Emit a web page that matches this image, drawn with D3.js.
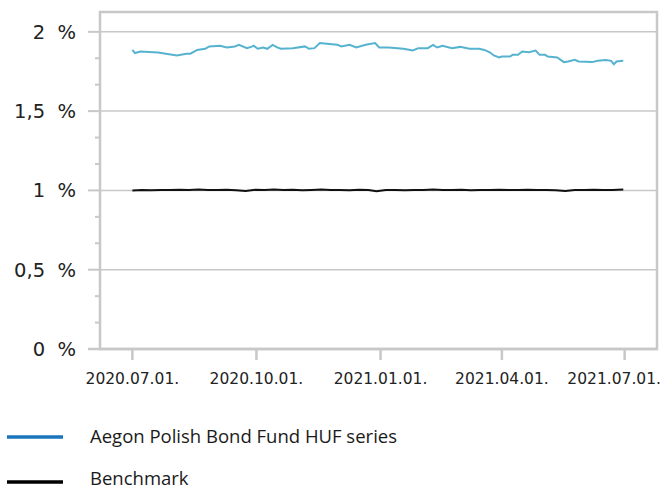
<!DOCTYPE html>
<html lang="en">
<head>
    <meta charset="UTF-8">
    <title>Aegon Polish Bond Fund HUF series</title>
    <script src="https://d3js.org/d3.v7.min.js"></script>
    <style>
        body { margin: 0; background: #fff; }
        .tick-label { font-family: "DejaVu Sans", Verdana, sans-serif; fill: #222; }
        .legend-label { font-family: "Open Sans", sans-serif; font-size: 18.5px; fill: #1a1a1a; }
    </style>
</head>
<body>
    <svg width="662" height="489"></svg>
    <script>
        // fund series
        const fundDates = [
            "2020-07-01", "2020-07-03", "2020-07-07", "2020-07-20", "2020-08-03", "2020-08-10",
            "2020-08-13", "2020-08-18", "2020-08-24", "2020-08-27", "2020-09-04", "2020-09-09",
            "2020-09-15", "2020-09-18", "2020-09-24", "2020-09-28", "2020-09-29", "2020-10-02",
            "2020-10-06", "2020-10-09", "2020-10-13", "2020-10-16", "2020-10-19", "2020-10-28",
            "2020-11-06", "2020-11-09", "2020-11-13", "2020-11-17", "2020-11-24", "2020-11-30",
            "2020-12-03", "2020-12-09", "2020-12-14", "2020-12-21", "2020-12-28", "2020-12-31",
            "2021-01-07", "2021-01-18", "2021-01-25", "2021-01-29", "2021-02-05", "2021-02-09",
            "2021-02-12", "2021-02-16", "2021-02-23", "2021-03-01", "2021-03-08", "2021-03-15",
            "2021-03-19", "2021-03-23", "2021-03-26", "2021-03-30", "2021-04-01", "2021-04-07",
            "2021-04-09", "2021-04-13", "2021-04-16", "2021-04-21", "2021-04-26", "2021-04-29",
            "2021-05-03", "2021-05-05", "2021-05-12", "2021-05-17", "2021-05-20", "2021-05-25",
            "2021-05-28", "2021-06-07", "2021-06-11", "2021-06-17", "2021-06-21", "2021-06-23",
            "2021-06-25", "2021-06-30"
        ];
        const fundValues = [
            1.886, 1.866, 1.876, 1.870, 1.851, 1.862,
            1.862, 1.886, 1.893, 1.908, 1.912, 1.901,
            1.908, 1.918, 1.897, 1.908, 1.912, 1.893,
            1.901, 1.893, 1.918, 1.903, 1.893, 1.897,
            1.908, 1.893, 1.897, 1.929, 1.923, 1.918,
            1.908, 1.918, 1.901, 1.918, 1.929, 1.901,
            1.901, 1.893, 1.882, 1.897, 1.897, 1.918,
            1.901, 1.912, 1.897, 1.905, 1.893, 1.893,
            1.886, 1.871, 1.851, 1.838, 1.844, 1.844,
            1.855, 1.855, 1.876, 1.872, 1.882, 1.855,
            1.855, 1.844, 1.838, 1.809, 1.813, 1.823,
            1.813, 1.809, 1.817, 1.823, 1.817, 1.796,
            1.813, 1.817
        ];

        // benchmark series
        const benchDates = [
            "2020-07-01", "2020-07-08", "2020-07-15", "2020-07-22", "2020-07-29", "2020-08-05",
            "2020-08-12", "2020-08-19", "2020-08-26", "2020-09-02", "2020-09-09", "2020-09-16",
            "2020-09-23", "2020-09-30", "2020-10-07", "2020-10-14", "2020-10-21", "2020-10-28",
            "2020-11-04", "2020-11-11", "2020-11-18", "2020-11-25", "2020-12-02", "2020-12-09",
            "2020-12-16", "2020-12-23", "2020-12-29", "2021-01-05", "2021-01-12", "2021-01-19",
            "2021-01-26", "2021-02-02", "2021-02-09", "2021-02-16", "2021-02-23", "2021-03-02",
            "2021-03-09", "2021-03-16", "2021-03-23", "2021-03-30", "2021-04-06", "2021-04-13",
            "2021-04-20", "2021-04-27", "2021-05-04", "2021-05-11", "2021-05-18", "2021-05-25",
            "2021-06-01", "2021-06-08", "2021-06-15", "2021-06-22", "2021-06-30"
        ];
        const benchValues = [
            1.000, 1.002, 1.001, 1.003, 1.002, 1.004,
            1.003, 1.005, 1.003, 1.002, 1.004, 1.001,
            0.996, 1.004, 1.002, 1.005, 1.002, 1.004,
            1.001, 1.003, 1.006, 1.002, 1.003, 1.001,
            1.004, 1.003, 0.995, 1.002, 1.003, 1.001,
            1.003, 1.002, 1.005, 1.003, 1.002, 1.004,
            1.001, 1.003, 1.002, 1.004, 1.003, 1.002,
            1.004, 1.003, 1.002, 1.001, 0.997, 1.003,
            1.002, 1.004, 1.003, 1.002, 1.006
        ];

        const xTickDates = ["2020-07-01", "2020-10-01", "2021-01-01", "2021-04-01", "2021-07-01"];
        const yMajorTicks = [0, 0.5, 1, 1.5, 2];
        const yTickLabels = ["0  %", "0,5  %", "1  %", "1,5  %", "2  %"];
        const seriesNames = ["Aegon Polish Bond Fund HUF series", "Benchmark"];

        const parse = d3.utcParse("%Y-%m-%d");
        const fmt = d3.utcFormat("%Y.%m.%d.");

        const W = 662;
        const plotL = 100, plotR = 657, plotT = 12, plotB = 349;
        const grid = "#c8c8c8";

        const x = d3.scaleUtc()
            .domain([parse("2020-06-07"), parse("2021-07-25")])
            .range([plotL, plotR]);
        const y = d3.scaleLinear()
            .domain([0, 2.125])
            .range([plotB, plotT]);

        const svg = d3.select("svg");

        // gridlines
        svg.append("g")
            .selectAll("line")
            .data(yMajorTicks.slice(1))
            .join("line")
            .attr("x1", plotL).attr("x2", plotR)
            .attr("y1", d => y(d)).attr("y2", d => y(d))
            .attr("stroke", grid).attr("stroke-width", 1.5);

        // frame
        svg.append("rect")
            .attr("x", plotL).attr("y", plotT)
            .attr("width", plotR - plotL).attr("height", plotB - plotT)
            .attr("fill", "none")
            .attr("stroke", grid).attr("stroke-width", 2.5);

        // x axis line extends left to meet the y ticks
        svg.append("line")
            .attr("x1", 88).attr("x2", plotR)
            .attr("y1", plotB).attr("y2", plotB)
            .attr("stroke", grid).attr("stroke-width", 2.5);

        // y ticks (minor every 1/6)
        const yMinor = d3.range(0, 2.001, 1 / 6);
        svg.append("g")
            .selectAll("line")
            .data(yMinor)
            .join("line")
            .attr("x1", d => yMajorTicks.some(m => Math.abs(m - d) < 1e-6) ? 88 : 95)
            .attr("x2", plotL)
            .attr("y1", d => y(d)).attr("y2", d => y(d))
            .attr("stroke", grid).attr("stroke-width", 2);

        svg.append("g")
            .selectAll("text")
            .data(yMajorTicks)
            .join("text")
            .attr("class", "tick-label")
            .attr("x", 76)
            .attr("y", d => y(d))
            .attr("dy", "0.36em")
            .attr("text-anchor", "end")
            .style("font-size", "19.5px")
            .style("white-space", "pre")
            .text((d, i) => yTickLabels[i]);

        // x ticks
        const xTicks = xTickDates.map(parse);
        svg.append("g")
            .selectAll("line")
            .data(xTicks)
            .join("line")
            .attr("x1", d => x(d)).attr("x2", d => x(d))
            .attr("y1", plotB + 1).attr("y2", 360)
            .attr("stroke", grid).attr("stroke-width", 2.5);

        svg.append("g")
            .selectAll("text")
            .data(xTicks)
            .join("text")
            .attr("class", "tick-label")
            .attr("x", d => x(d))
            .attr("y", 384)
            .attr("text-anchor", "middle")
            .style("font-size", "15.5px")
            .text(d => fmt(d))
            .each(function () {
                // keep the last label inside the picture
                const half = this.getComputedTextLength() / 2;
                const cx = +this.getAttribute("x");
                if (cx + half > W - 1) this.setAttribute("x", W - 1 - half);
            });

        // lines
        const line = d3.line()
            .x(d => x(d[0]))
            .y(d => y(d[1]));

        const fund = fundDates.map((d, i) => [parse(d), fundValues[i]]);
        const bench = benchDates.map((d, i) => [parse(d), benchValues[i]]);

        svg.append("path")
            .datum(bench)
            .attr("fill", "none")
            .attr("stroke", "#111")
            .attr("stroke-width", 2)
            .attr("d", line);

        svg.append("path")
            .datum(fund)
            .attr("fill", "none")
            .attr("stroke", "#55b3cf")
            .attr("stroke-width", 2)
            .attr("d", line);

        // legend
        const legendColors = ["#1a75bb", "#000"];
        const legendY = [437, 482];
        const textShift = [0, -3];
        const lg = svg.append("g")
            .selectAll("g")
            .data(seriesNames)
            .join("g")
            .attr("transform", (d, i) => `translate(0,${legendY[i]})`);
        lg.append("line")
            .attr("x1", 7).attr("x2", 63)
            .attr("stroke", (d, i) => legendColors[i])
            .attr("stroke-width", 3.5);
        lg.append("text")
            .attr("class", "legend-label")
            .attr("x", 90)
            .attr("y", (d, i) => textShift[i])
            .attr("dy", "0.33em")
            .text(d => d);
    </script>
</body>
</html>
